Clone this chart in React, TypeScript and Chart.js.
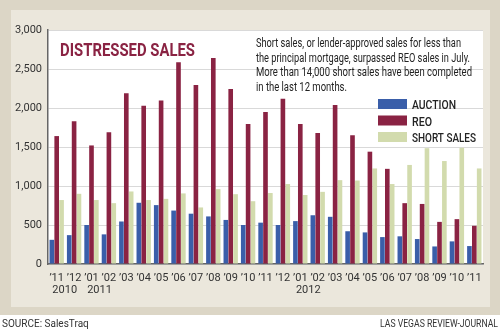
import React, { useEffect, useRef } from "react";
import { Chart, registerables } from "chart.js";

Chart.register(...registerables);

const months = ["’11", "’12", "’01", "’02", "’03", "’04", "’05", "’06", "’07", "’08", "’09", "’10", "’11", "’12", "’01", "’02", "’03", "’04", "’05", "’06", "’07", "’08", "’09", "’10", "’11"];
const yearIndex = [0, 2, 14];
const yearText = ["2010", "2011", "2012"];

const auction = [310, 370, 500, 380, 545, 785, 755, 685, 645, 610, 565, 500, 530, 500, 550, 625, 605, 420, 405, 345, 355, 320, 225, 290, 230];
const reo = [1640, 1830, 1520, 1690, 2190, 2030, 2095, 2585, 2295, 2640, 2245, 1795, 1950, 2120, 1795, 1680, 2040, 1650, 1440, 1220, 780, 770, 540, 575, 490];
const shortSales = [820, 900, 820, 780, 930, 820, 835, 905, 725, 960, 895, 805, 910, 1025, 885, 925, 1075, 1070, 1225, 1025, 1270, 1485, 1320, 1490, 1225];

const seriesNames = ["AUCTION", "REO", "SHORT SALES"];
const seriesColors = ["#3a5ea9", "#8a2343", "#d2dbad"];
const legendTextWidths = [44, 20, 64];

const title = "DISTRESSED SALES";
const noteLines = [
  "Short sales, or lender-approved sales for less than",
  "the principal mortgage, surpassed REO sales in July.",
  "More than 14,000 short sales have been completed",
  "in the last 12 months.",
];
const noteWidths = [205, 214, 216, 91];
const sourceText = "SOURCE: SalesTraq";
const creditText = "LAS VEGAS REVIEW-JOURNAL";

const FONT = "Roboto, 'Liberation Sans', sans-serif";

const decor = {
  id: "decor",
  beforeDraw(chart: any) {
    const ctx = chart.ctx;
    const a = chart.chartArea;
    ctx.save();
    ctx.fillStyle = "#ffffff";
    ctx.fillRect(0, 0, 500, 330);
    ctx.fillStyle = "#dcd6c6";
    ctx.fillRect(0, 0, 500, 315);
    ctx.fillStyle = "#ebe7dc";
    ctx.fillRect(11, 10, 479, 297);
    ctx.fillStyle = "#ffffff";
    ctx.fillRect(a.left, a.top, a.right - a.left, a.bottom - a.top);
    ctx.restore();
  },
  afterDraw(chart: any) {
    const ctx = chart.ctx;
    const x = chart.scales.x;
    ctx.save();
    ctx.textBaseline = "alphabetic";
    ctx.textAlign = "left";
    // title
    ctx.fillStyle = "#8a2343";
    ctx.font = `bold 18px ${FONT}`;
    ctx.fillText(title, 60, 56, 135);
    // note
    ctx.fillStyle = "#222222";
    ctx.font = `12px ${FONT}`;
    noteLines.forEach((t, i) => {
      ctx.fillText(t, 256, 47 + i * 14.5, noteWidths[i]);
    });
    // legend
    seriesNames.forEach((n, i) => {
      const y = 99 + i * 16.5;
      ctx.fillStyle = seriesColors[i];
      ctx.fillRect(378, y, 29, 10);
      ctx.fillStyle = "#222222";
      ctx.font = `500 13px ${FONT}`;
      ctx.fillText(n, 412, y + 10, legendTextWidths[i]);
    });
    // year labels
    ctx.fillStyle = "#333333";
    ctx.font = `11px ${FONT}`;
    ctx.textAlign = "center";
    yearIndex.forEach((idx, i) => {
      ctx.fillText(yearText[i], x.getPixelForValue(idx) + 8, 293);
    });
    // footer
    ctx.font = `10px ${FONT}`;
    ctx.textAlign = "left";
    ctx.fillText(sourceText, 2, 327, 90);
    ctx.textAlign = "right";
    ctx.fillText(creditText, 498, 327, 118);
    ctx.restore();
  },
};

export default function App() {
  const ref = useRef<HTMLCanvasElement | null>(null);
  useEffect(() => {
    if (!ref.current) return;
    const chart = new Chart(ref.current, {
      type: "bar",
      data: {
        labels: months,
        datasets: [
          { label: seriesNames[0], data: auction, backgroundColor: seriesColors[0] },
          { label: seriesNames[1], data: reo, backgroundColor: seriesColors[1] },
          { label: seriesNames[2], data: shortSales, backgroundColor: seriesColors[2] },
        ],
      },
      options: {
        responsive: false,
        animation: false,
        devicePixelRatio: 1,
        layout: { padding: { left: 0, top: 30, right: 17, bottom: 0 } },
        datasets: { bar: { categoryPercentage: 0.84, barPercentage: 0.95, borderWidth: 0 } },
        plugins: { legend: { display: false }, tooltip: { enabled: false } },
        scales: {
          x: {
            grid: { display: false, drawTicks: false },
            border: { display: true, color: "#666666", width: 1.5 },
            ticks: { color: "#333333", font: { family: FONT, size: 11 }, padding: 8, maxRotation: 0, autoSkip: false },
            afterFit(s: any) { s.height = 66; },
          },
          y: {
            min: 0,
            max: 3000,
            grid: { color: "#d9d9d9", lineWidth: 1, drawTicks: false },
            border: { display: true, color: "#666666", width: 1.5 },
            ticks: {
              stepSize: 500,
              color: "#333333",
              font: { family: FONT, size: 11 },
              padding: 6,
              callback: (v: any) => Number(v).toLocaleString("en-US"),
            },
            afterFit(s: any) { s.width = 48; },
          },
        },
      },
      plugins: [decor],
    });
    return () => chart.destroy();
  }, []);
  return (
    <div style={{ position: "fixed", left: 0, top: 0, width: 500, height: 330 }}>
      <canvas ref={ref} width={500} height={330} style={{ width: 500, height: 330, display: "block" }} />
    </div>
  );
}
